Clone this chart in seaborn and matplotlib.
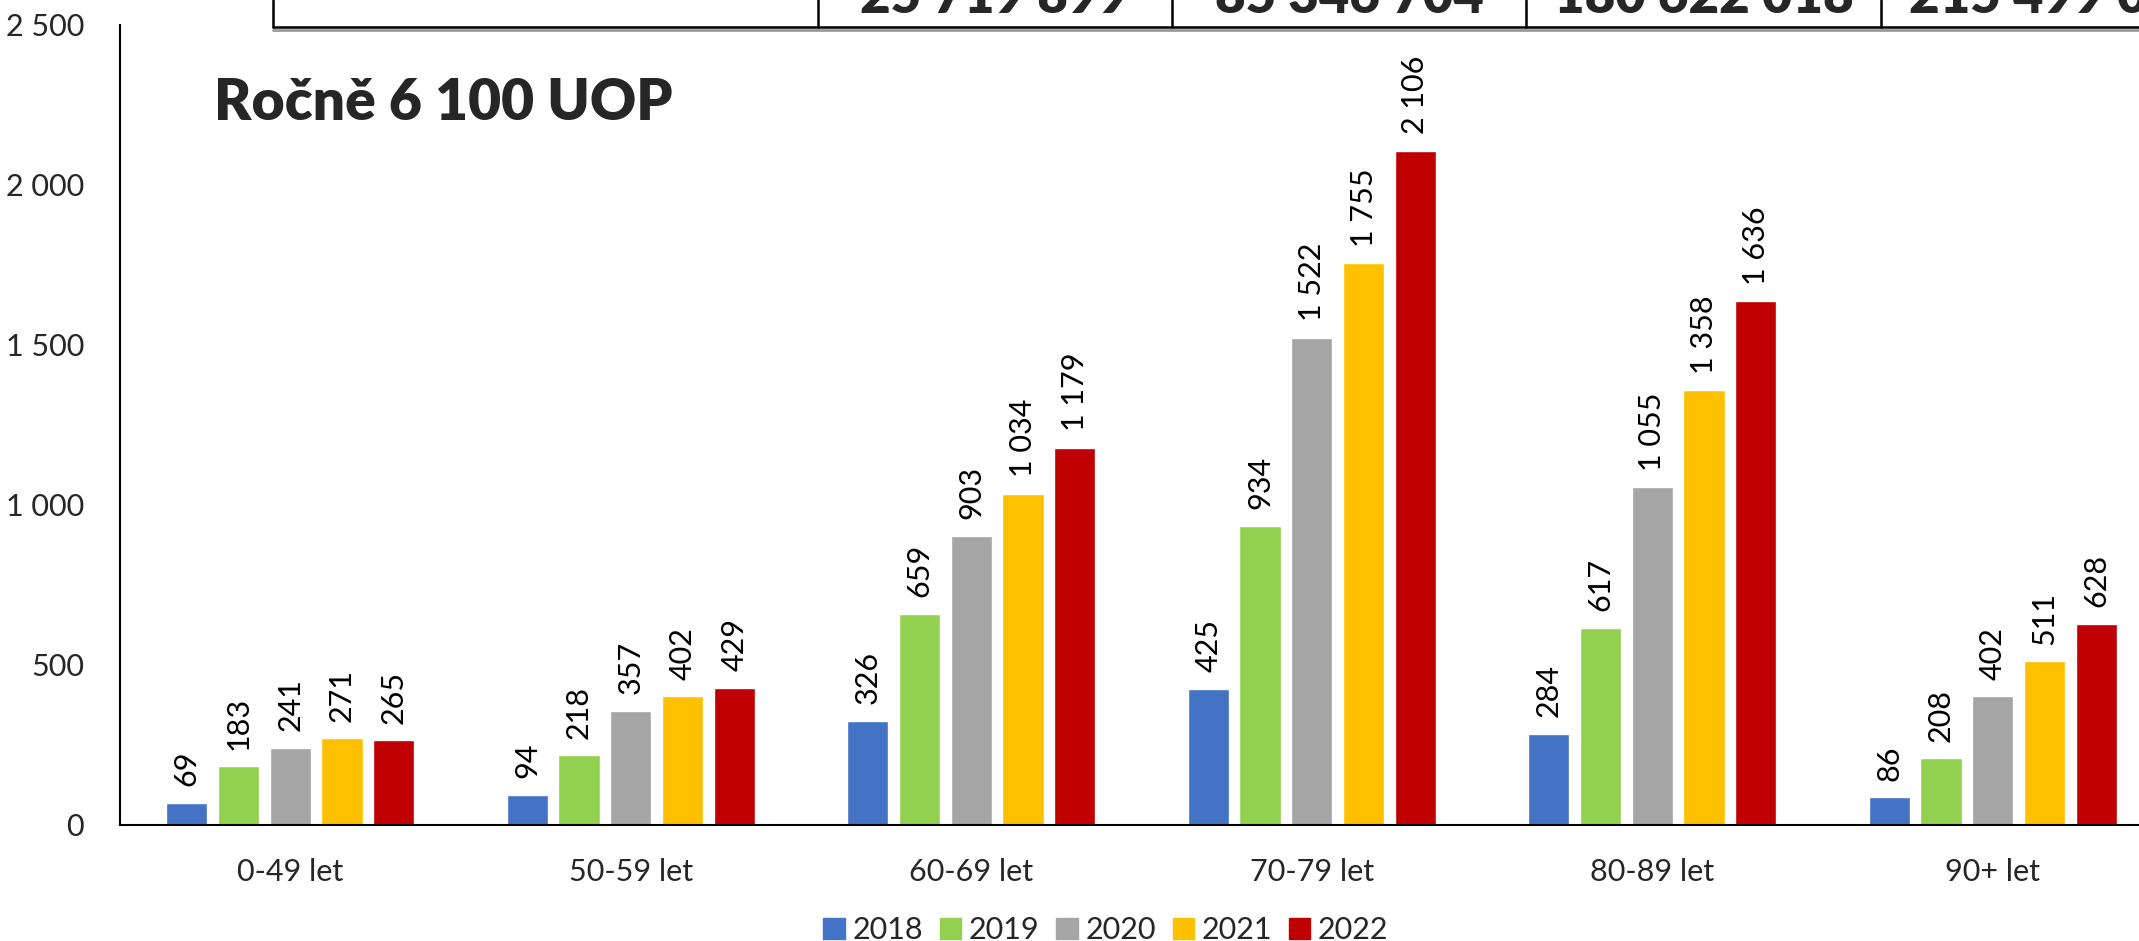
import matplotlib
matplotlib.use("Agg")
import matplotlib.pyplot as plt
import seaborn as sns
import pandas as pd
from matplotlib.lines import Line2D

# data
age_groups = ['0-49 let', '50-59 let', '60-69 let', '70-79 let', '80-89 let', '90+ let']
years = ['2018', '2019', '2020', '2021', '2022']
v2018 = [69, 94, 326, 425, 284, 86]
v2019 = [183, 218, 659, 934, 617, 208]
v2020 = [241, 357, 903, 1522, 1055, 402]
v2021 = [271, 402, 1034, 1755, 1358, 511]
v2022 = [265, 429, 1179, 2106, 1636, 628]
colors = ['#4472C4', '#92D050', '#A5A5A5', '#FFC000', '#C00000']

# cut-off table at the top of the slide
table_values = ['25 719 899', '85 346 704', '180 622 018', '215 499 067']

series = [v2018, v2019, v2020, v2021, v2022]
rows = []
for y, vals in zip(years, series):
    for g, v in zip(age_groups, vals):
        rows.append({'group': g, 'year': y, 'value': v})
df = pd.DataFrame(rows)

sns.set_style('white')
plt.rcParams['font.family'] = ['Lato', 'DejaVu Sans']

W, H = 2139, 941
fig = plt.figure(figsize=(W / 100, H / 100), dpi=100)
ax = fig.add_axes([120 / W, 1 - 825 / H, (2163 - 120) / W, (825 - 25) / H])

sns.barplot(data=df, x='group', y='value', hue='year', order=age_groups,
            hue_order=years, palette=colors, width=0.76, gap=0.2,
            saturation=1, ax=ax, legend=True)

fmt = lambda v: f'{int(v):,}'.replace(',', ' ')
for cont in ax.containers:
    ax.bar_label(cont, labels=[fmt(b.get_height()) for b in cont],
                 rotation=90, padding=12, fontsize=22, color='black')

ax.set_xlim(-0.5, 5.5)
ax.set_ylim(0, 2500)
ax.set_yticks([0, 500, 1000, 1500, 2000, 2500])
ax.set_yticklabels([fmt(t) for t in [0, 500, 1000, 1500, 2000, 2500]])
ax.set_xlabel('')
ax.set_ylabel('')
ax.tick_params(axis='y', length=0, pad=26, labelsize=22)
ax.tick_params(axis='x', length=0, pad=24, labelsize=22)
for s in ['top', 'right']:
    ax.spines[s].set_visible(False)
for s in ['left', 'bottom']:
    ax.spines[s].set_color('black')
    ax.spines[s].set_linewidth(1.5)

ax.legend_.remove()
handles = [plt.Rectangle((0, 0), 1, 1, color=c) for c in colors]
fig.legend(handles, years, loc='center', bbox_to_anchor=(1106 / W, 1 - 930 / H),
           ncol=5, frameon=False, fontsize=22, handlelength=0.7, handleheight=0.7,
           handletextpad=0.25, columnspacing=0.55)

fig.text(214 / W, 1 - 120 / H, 'Ročně 6 100 UOP', fontsize=41, fontweight='heavy',
         ha='left', va='baseline')

# table fragment
line_y = 1 - 27 / H
fig.add_artist(Line2D([273 / W, 1], [line_y - 2.5 / H] * 2, color='#9a9a9a', lw=2,
                      transform=fig.transFigure))
fig.add_artist(Line2D([273 / W, 1], [line_y, line_y], color='black', lw=1.8,
                      transform=fig.transFigure))
edges = [273, 818, 1172, 1526, 1881, 2236]
for x in edges[:-1]:
    fig.add_artist(Line2D([x / W, x / W], [line_y, 1.0], color='black', lw=1.8,
                          transform=fig.transFigure))
for i, txt in enumerate(table_values):
    cx = (edges[i + 1] + edges[i + 2]) / 2
    fig.text(cx / W, 1 - 13 / H, txt, fontsize=38, fontweight='heavy',
             ha='center', va='baseline')

fig.savefig('out.png', dpi=100)
